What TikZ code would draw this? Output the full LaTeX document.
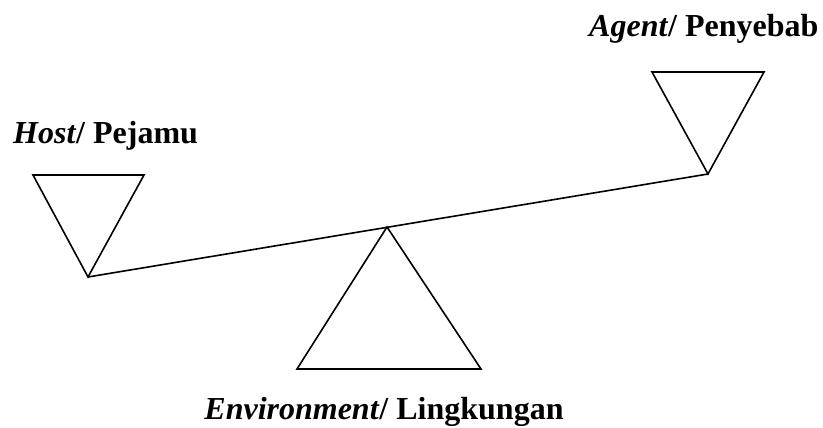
\documentclass[tikz,border=0pt]{standalone}
\usepackage{fontspec}
\setmainfont{Liberation Serif}
\begin{document}
\begin{tikzpicture}[x=1pt,y=1pt,
  tri/.style={draw=black,line width=1.6pt,line join=miter},
  beam/.style={draw=black,line width=1.6pt},
  label/.style={inner sep=0pt,font=\fontsize{32}{36}\selectfont\bfseries}]
\useasboundingbox (0,0) rectangle (823,428);
% host weight (inverted triangle)
\coordinate (hA) at (33,253);
\coordinate (hB) at (144,253);
\coordinate (hT) at (88,151);
% agent weight (inverted triangle)
\coordinate (aA) at (652,356);
\coordinate (aB) at (764,356);
\coordinate (aT) at (708,254);
% fulcrum
\coordinate (fT) at (387,201);
\coordinate (fL) at (297,59);
\coordinate (fR) at (481,59);
\draw[tri] (hA) -- (hB) -- (hT) -- cycle;
\draw[tri] (aA) -- (aB) -- (aT) -- cycle;
\draw[tri] (fT) -- (fR) -- (fL) -- cycle;
\draw[beam] (hT) -- (aT);
\node[label,anchor=base west] (host) at (13,284) {\textit{Host}/ Pejamu};
\node[label,anchor=base west] (agent) at (589,391) {\textit{Agent}/ Penyebab};
\node[label,anchor=base] (env) at (384,8) {\textit{Environment}/ Lingkungan};
\end{tikzpicture}
\end{document}
